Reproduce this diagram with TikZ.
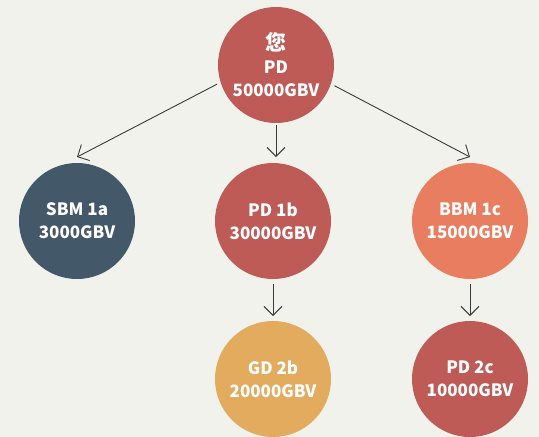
\documentclass[tikz,border=0pt]{standalone}
\usepackage{fontspec}
\setmainfont{Noto Sans CJK SC}
\usetikzlibrary{arrows.meta,calc}
\definecolor{bg}{HTML}{F2F2EC}
\definecolor{cred}{HTML}{BF5B56}
\definecolor{cslate}{HTML}{435868}
\definecolor{corange}{HTML}{E87D5F}
\definecolor{cyellow}{HTML}{E3AB5E}
\definecolor{cline}{HTML}{3A3A3A}
\begin{document}
\begin{tikzpicture}[x=1pt,y=1pt,
  bubble/.style={circle,minimum size=116pt,inner sep=0pt,outer sep=0pt,align=center,text=white,
    font=\bfseries\fontsize{17}{23}\selectfont},
  link/.style={draw=cline,line width=0.9pt,-{Straight Barb[length=9pt,width=18pt]}}]
\fill[bg] (0,0) rectangle (539,-437);
\useasboundingbox (0,0) rectangle (539,-437);
\node[bubble,fill=cred] (top) at (276,-65) {{\fontsize{21}{23}\selectfont 您}\\PD\\50000GBV};
\node[bubble,fill=cslate] (a) at (77,-221) {SBM 1a\\3000GBV};
\node[bubble,fill=cred] (b) at (273,-221) {PD 1b\\30000GBV};
\node[bubble,fill=corange] (c) at (470,-221) {BBM 1c\\15000GBV};
\node[bubble,fill=cyellow] (b2) at (273,-379) {GD 2b\\20000GBV};
\node[bubble,fill=cred] (c2) at (470,-379) {PD 2c\\10000GBV};
\draw[link] ($(top.center)+(198:62pt)$) -- ([yshift=6pt]a.north);
\draw[link] ($(top.center)+(-19.5:62pt)$) -- ([yshift=6pt]c.north);
\draw[link] ([yshift=-2pt]top.south) -- ([yshift=6pt]top.south |- b.north);
\draw[link] ([yshift=-5pt]b.south) -- ([yshift=5pt]b2.north);
\draw[link] ([yshift=-5pt]c.south) -- ([yshift=5pt]c2.north);
\end{tikzpicture}
\end{document}
